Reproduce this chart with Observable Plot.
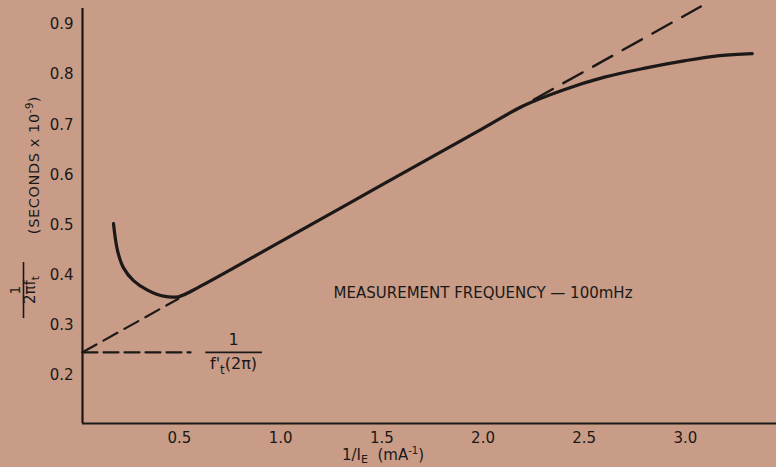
<!DOCTYPE html>
<html><head><meta charset="utf-8">
<script src="https://cdn.jsdelivr.net/npm/d3@7"></script>
<script src="https://cdn.jsdelivr.net/npm/@observablehq/plot@0.6"></script>
<style>
html,body{margin:0;padding:0;background:#c89c87;}
#chart{width:776px;height:467px;overflow:hidden;}
svg text{font-family:"DejaVu Sans",sans-serif;}
</style></head><body><div id="chart"></div>
<script>
// Axis domains and tick values
const xDomain = [0.021, 3.45];
const yDomain = [0.104, 0.932];
const xTicks = [0.5, 1.0, 1.5, 2.0, 2.5, 3.0];
const yTicks = [0.2, 0.3, 0.4, 0.5, 0.6, 0.7, 0.8, 0.9];

// Measured 1/(2π f_t) vs 1/I_E
const measuredX = [0.174, 0.194, 0.223, 0.273, 0.342, 0.421, 0.495, 0.6, 1.0, 1.5, 2.0, 2.2, 2.4, 2.6, 2.8, 3.0, 3.17, 3.33];
const measuredY = [0.503, 0.449, 0.415, 0.389, 0.370, 0.358, 0.357, 0.377, 0.467, 0.580, 0.693, 0.738, 0.770, 0.795, 0.813, 0.828, 0.838, 0.842];

// Extrapolated straight line (dashed parts)
const lowerDashX = [0.021, 0.495];
const lowerDashY = [0.246, 0.353];
const upperDashX = [2.25, 3.076];
const upperDashY = [0.750, 0.936];

// Horizontal intercept line
const interceptX = [0.021, 0.555];
const interceptY = [0.246, 0.246];

// Annotation
const noteText = ["MEASUREMENT FREQUENCY — 100mHz"];
const noteX = [2.0];
const noteY = [0.363];
const fracBarX = [0.63, 0.91];
const fracY = 0.246;

const toPts = (xs, ys) => xs.map((x, i) => ({x, y: ys[i]}));
const ink = "#1b1817";

const plot = Plot.plot({
  width: 776, height: 467,
  marginLeft: 82, marginRight: 0, marginTop: 8, marginBottom: 44,
  style: {background: "transparent", color: ink, fontFamily: "DejaVu Sans", overflow: "visible"},
  x: {domain: xDomain},
  y: {domain: yDomain},
  marks: [
    Plot.axisX({ticks: xTicks, tickSize: 0, tickPadding: 9, tickFormat: d3.format(".1f"), fontSize: 15, label: null}),
    Plot.axisY({ticks: yTicks, tickSize: 0, tickPadding: 9, tickFormat: d3.format(".1f"), fontSize: 15, label: null}),
    Plot.ruleX([xDomain[0]], {stroke: ink, strokeWidth: 2.2}),
    Plot.ruleY([yDomain[0]], {stroke: ink, strokeWidth: 2.2}),
    Plot.line(toPts(interceptX, interceptY), {x: "x", y: "y", stroke: ink, strokeWidth: 2.2, strokeDasharray: "15,6"}),
    Plot.line(toPts(lowerDashX, lowerDashY), {x: "x", y: "y", stroke: ink, strokeWidth: 2.2, strokeDasharray: "16,8"}),
    Plot.line(toPts(upperDashX, upperDashY), {x: "x", y: "y", stroke: ink, strokeWidth: 2.4, strokeDasharray: "22,12"}),
    Plot.line(toPts(measuredX, measuredY), {x: "x", y: "y", stroke: ink, strokeWidth: 3.2, curve: "catmull-rom"}),
    Plot.ruleY([fracY], {x1: fracBarX[0], x2: fracBarX[1], stroke: ink, strokeWidth: 1.6}),
    Plot.text(noteText, {x: noteX, y: noteY, text: d => d, fontSize: 15, fill: ink})
  ]
});
document.getElementById("chart").appendChild(plot);

const svg = d3.select(plot);
const sx = plot.scale("x"), sy = plot.scale("y");

// fraction label at end of intercept line
const fx = sx.apply((fracBarX[0] + fracBarX[1]) / 2), fy = sy.apply(fracY);
svg.append("text").attr("x", fx).attr("y", fy - 7).attr("text-anchor", "middle")
  .attr("font-size", 16).attr("fill", ink).text("1");
const den = svg.append("text").attr("x", fx).attr("y", fy + 17).attr("text-anchor", "middle")
  .attr("font-size", 16).attr("fill", ink);
den.append("tspan").text("f'");
den.append("tspan").attr("font-size", 12).attr("dy", 5).text("t");
den.append("tspan").attr("dy", -5).text("(2π)");

// y axis title (rotated)
const yt = svg.append("text").attr("transform", "translate(39,165) rotate(-90)")
  .attr("text-anchor", "middle").attr("font-size", 14.5).attr("letter-spacing", 0.6).attr("fill", ink);
yt.append("tspan").text("(SECONDS x 10");
yt.append("tspan").attr("font-size", 10).attr("dy", -6).text("-9");
yt.append("tspan").attr("dy", 6).text(")");

svg.append("text").attr("transform", "translate(20,290) rotate(-90)")
  .attr("text-anchor", "middle").attr("font-size", 14).attr("fill", ink).text("1");
svg.append("line").attr("x1", 23.5).attr("x2", 23.5).attr("y1", 262).attr("y2", 318)
  .attr("stroke", ink).attr("stroke-width", 1.6);
const yd = svg.append("text").attr("transform", "translate(35,290) rotate(-90)")
  .attr("text-anchor", "middle").attr("font-size", 15).attr("fill", ink);
yd.append("tspan").text("2πf");
yd.append("tspan").attr("font-size", 11).attr("dy", 4).text("t");

// x axis title
const xt = svg.append("text").attr("x", 383).attr("y", 460)
  .attr("font-size", 15).attr("fill", ink);
xt.append("tspan").text("1/I");
xt.append("tspan").attr("font-size", 11).attr("dy", 3).text("E");
xt.append("tspan").attr("dy", -3).text("  (mA");
xt.append("tspan").attr("font-size", 10).attr("dy", -6).text("-1");
xt.append("tspan").attr("dy", 6).text(")");
</script>
</body></html>
